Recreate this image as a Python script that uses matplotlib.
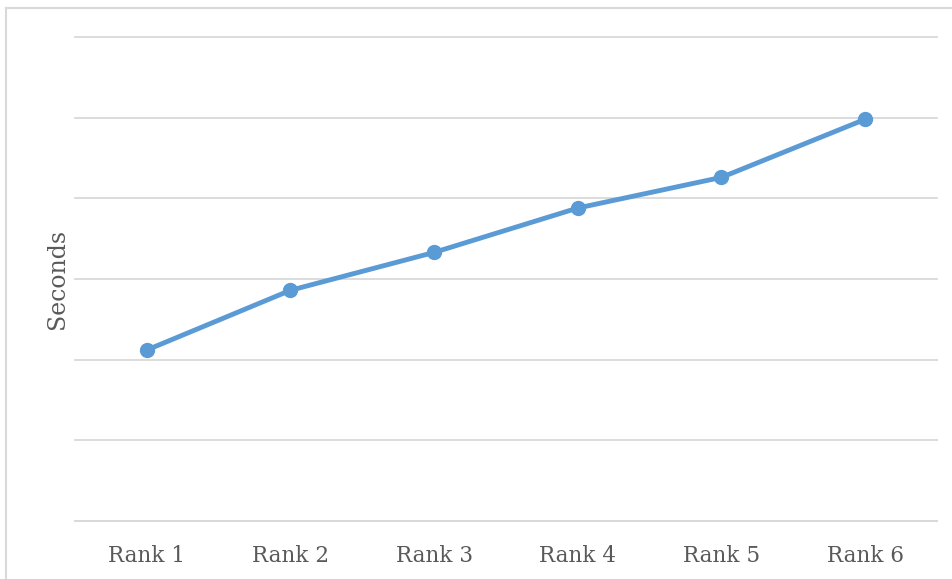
import matplotlib
matplotlib.use("Agg")
import matplotlib.pyplot as plt
from matplotlib.lines import Line2D

categories = ["Rank 1", "Rank 2", "Rank 3", "Rank 4", "Rank 5", "Rank 6"]
seconds = [2.12, 2.86, 3.33, 3.88, 4.26, 4.98]

W, H = 953, 579
fig = plt.figure(figsize=(W / 100, H / 100), dpi=100)
ax = fig.add_axes([75 / W, (H - 521) / H, (937 - 75) / W, (521 - 37) / H])

x = list(range(len(categories)))
ax.plot(x, seconds, color="#5B9BD5", linewidth=3.5, marker="o", markersize=10,
        solid_capstyle="round", zorder=3)

ax.set_xlim(-0.5, len(categories) - 0.5)
ax.set_ylim(0, 6)
ax.set_yticks(range(0, 7))
ax.set_yticklabels([])
ax.tick_params(axis="y", length=0)
ax.grid(axis="y", color="#D9D9D9", linewidth=1.3)
for gl in ax.get_ygridlines():
    gl.set_clip_on(False)
ax.set_axisbelow(True)

ax.set_xticks(x)
ax.set_xticklabels(categories, fontsize=15.5, color="#595959", family="DejaVu Serif")
ax.tick_params(axis="x", length=0, pad=17)

for s in ["top", "right", "left"]:
    ax.spines[s].set_visible(False)
ax.spines["bottom"].set_color("#D9D9D9")
ax.spines["bottom"].set_linewidth(1.3)

fig.text(58 / W, 1 - 279 / H, "Seconds", rotation=90, va="center", ha="center",
         fontsize=17, color="#595959", family="DejaVu Serif")

# chart frame (partly cropped)
fig.add_artist(Line2D([6 / W, 6 / W], [0, 1 - 7.5 / H], color="#D9D9D9", linewidth=1.5))
fig.add_artist(Line2D([6 / W, 1], [1 - 7.5 / H, 1 - 7.5 / H], color="#D9D9D9", linewidth=1.5))

fig.savefig("out.png", dpi=100)
